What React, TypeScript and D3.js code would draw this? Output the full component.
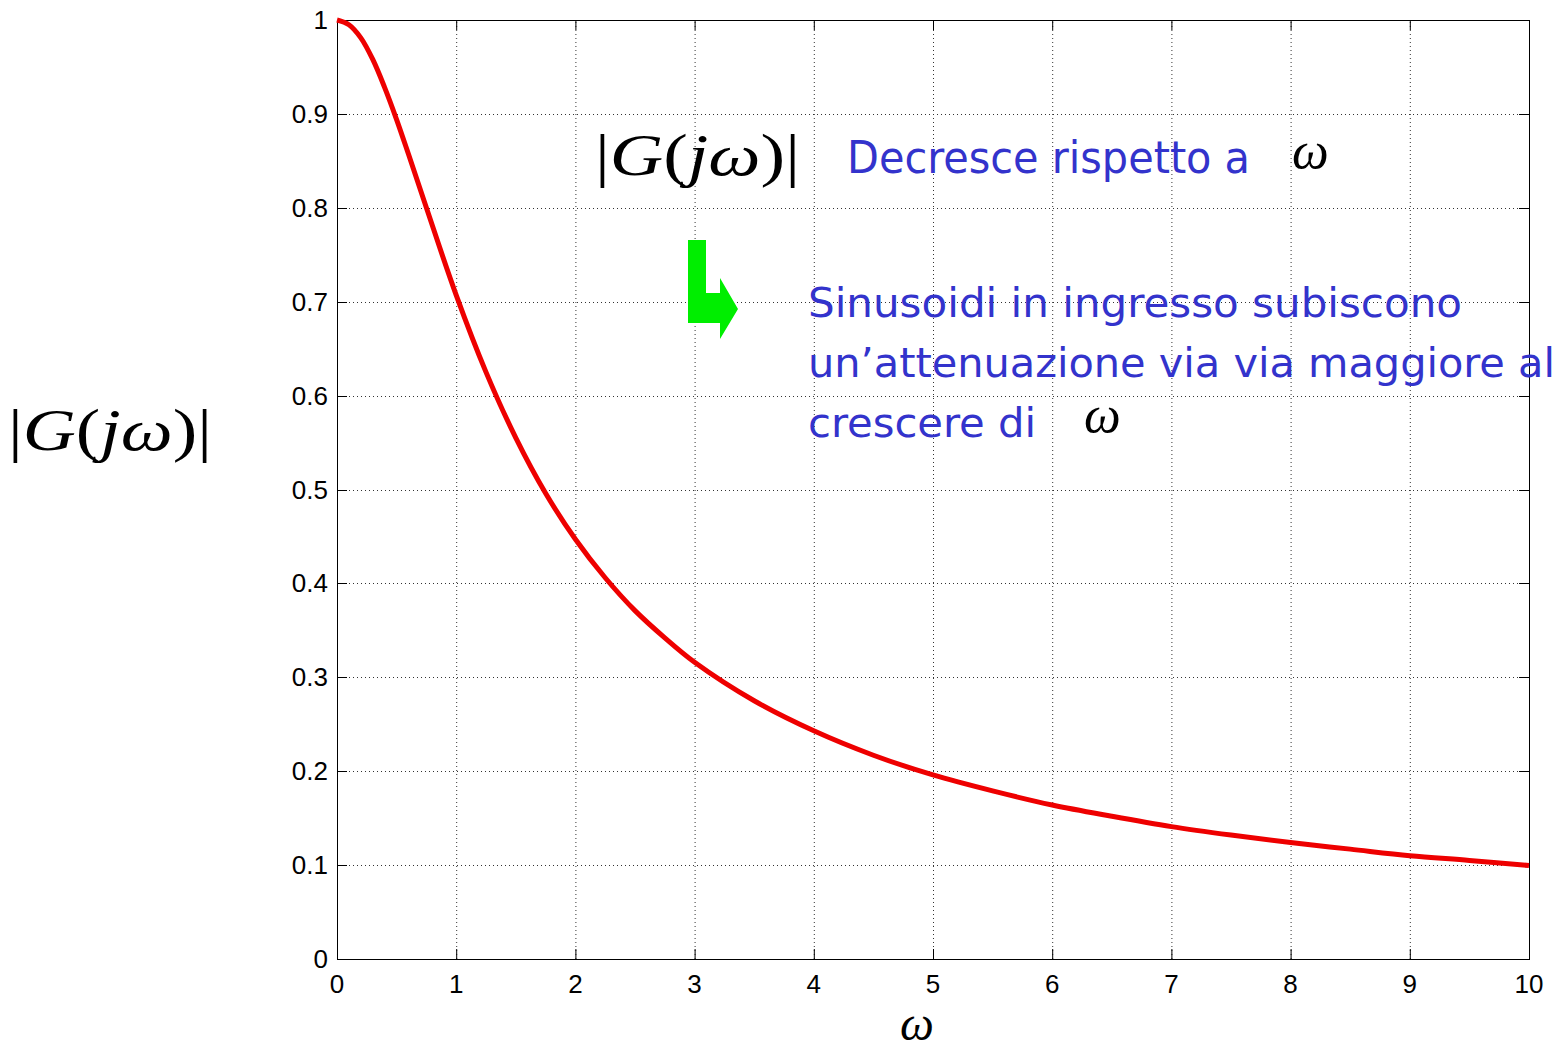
import React from "react";
import * as d3 from "d3";

const omega = [0, 0.1, 0.2, 0.3, 0.4, 0.5, 0.6, 0.75, 1, 1.25, 1.5, 1.75, 2, 2.25, 2.5, 2.75, 3, 3.5, 4, 4.5, 5, 5.5, 6, 6.5, 7, 7.5, 8, 8.5, 9, 9.5, 10];
const magnitude = [1, 0.995, 0.981, 0.958, 0.928, 0.894, 0.857, 0.8, 0.707, 0.625, 0.555, 0.496, 0.447, 0.406, 0.371, 0.342, 0.316, 0.275, 0.243, 0.217, 0.196, 0.179, 0.164, 0.152, 0.141, 0.132, 0.124, 0.117, 0.11, 0.105, 0.0995];
const xTicks = [0, 1, 2, 3, 4, 5, 6, 7, 8, 9, 10];
const yTicks = [0, 0.1, 0.2, 0.3, 0.4, 0.5, 0.6, 0.7, 0.8, 0.9, 1];
const yTickLabels = ["0", "0.1", "0.2", "0.3", "0.4", "0.5", "0.6", "0.7", "0.8", "0.9", "1"];
const annotationTop = "Decresce rispetto a";
const annotationLines = ["Sinusoidi in ingresso subiscono", "un\u2019attenuazione via via maggiore al", "crescere di"];

const X0 = 337, X1 = 1529, Y0 = 959, Y1 = 20;

function MathG({ x, y, size, width }: { x: number; y: number; size: number; width: number }) {
  return (
    <text x={x} y={y} fontFamily="'Liberation Serif', 'DejaVu Serif', serif" fontSize={size} fill="#000" textLength={width} lengthAdjust="spacingAndGlyphs">
      <tspan>|</tspan>
      <tspan fontStyle="italic">G</tspan>
      <tspan>(</tspan>
      <tspan fontStyle="italic">j</tspan>
      <tspan fontStyle="italic">ω</tspan>
      <tspan>)</tspan>
      <tspan>|</tspan>
    </text>
  );
}

export default function App() {
  const x = d3.scaleLinear().domain([0, 10]).range([X0, X1]);
  const y = d3.scaleLinear().domain([0, 1]).range([Y0, Y1]);
  const pts = omega.map((w, i) => [w, magnitude[i]] as [number, number]);
  const line = d3.line<[number, number]>().x(d => x(d[0])).y(d => y(d[1])).curve(d3.curveCatmullRom.alpha(0.5));
  const tickLen = 10;
  const blue = "#3333cc";
  const sans = "'DejaVu Sans Condensed', 'DejaVu Sans', Verdana, sans-serif";

  const arrow = [
    [688, 240], [706, 240], [706, 293], [720, 293], [720, 278], [738, 309], [720, 339], [720, 323], [688, 323],
  ];

  return (
    <svg width={1565} height={1053} style={{ position: "absolute", left: 0, top: 0, background: "#fff" }}>
      <rect x={0} y={0} width={1565} height={1053} fill="#fff" />
      <g stroke="#333" strokeWidth={1} strokeDasharray="1 3">
        {xTicks.slice(1, -1).map(t => (
          <line key={"gx" + t} x1={x(t) + 0.5} x2={x(t) + 0.5} y1={Y0} y2={Y1} />
        ))}
        {yTicks.slice(1, -1).map(t => (
          <line key={"gy" + t} x1={X0} x2={X1} y1={Math.round(y(t)) + 0.5} y2={Math.round(y(t)) + 0.5} />
        ))}
      </g>
      <g stroke="#000" strokeWidth={1}>
        {xTicks.map(t => (
          <g key={"tx" + t}>
            <line x1={x(t) + 0.5} x2={x(t) + 0.5} y1={Y0} y2={Y0 - tickLen} />
            <line x1={x(t) + 0.5} x2={x(t) + 0.5} y1={Y1} y2={Y1 + tickLen} />
          </g>
        ))}
        {yTicks.map(t => (
          <g key={"ty" + t}>
            <line x1={X0} x2={X0 + tickLen} y1={Math.round(y(t)) + 0.5} y2={Math.round(y(t)) + 0.5} />
            <line x1={X1} x2={X1 - tickLen} y1={Math.round(y(t)) + 0.5} y2={Math.round(y(t)) + 0.5} />
          </g>
        ))}
        <rect x={X0 + 0.5} y={Y1 + 0.5} width={X1 - X0} height={Y0 - Y1} fill="none" />
      </g>
      <path d={line(pts) || ""} fill="none" stroke="#ee0000" strokeWidth={5} strokeLinejoin="round" />
      <g fontFamily="'Liberation Sans', Arial, sans-serif" fontSize={26} fill="#000">
        {yTicks.map((t, i) => (
          <text key={"ly" + t} x={328} y={y(t) + 9} textAnchor="end">{yTickLabels[i]}</text>
        ))}
        {xTicks.map(t => (
          <text key={"lx" + t} x={x(t)} y={993} textAnchor="middle">{String(t)}</text>
        ))}
      </g>
      <text x={917} y={1040} textAnchor="middle" fontFamily="'Liberation Serif', 'DejaVu Serif', serif" fontStyle="italic" fontSize={48}>ω</text>
      <MathG x={8} y={450} size={60} width={204} />
      <MathG x={595} y={175} size={60} width={205} />
      <text x={847} y={173} fontFamily={sans} fontSize={44} fill={blue} textLength={403} lengthAdjust="spacingAndGlyphs">{annotationTop}</text>
      <text x={1292} y={168} fontFamily="'Liberation Serif', 'DejaVu Serif', serif" fontStyle="italic" fontSize={52}>ω</text>
      <polygon points={arrow.map(p => p.join(",")).join(" ")} fill="#00ee00" />
      {annotationLines.map((s, i) => (
        <text key={"an" + i} x={808} y={317 + i * 60} fontFamily={sans} fontSize={40} fill={blue}
          textLength={[654, 747, 228][i]} lengthAdjust="spacingAndGlyphs">{s}</text>
      ))}
      <text x={1084} y={432} fontFamily="'Liberation Serif', 'DejaVu Serif', serif" fontStyle="italic" fontSize={52}>ω</text>
    </svg>
  );
}
